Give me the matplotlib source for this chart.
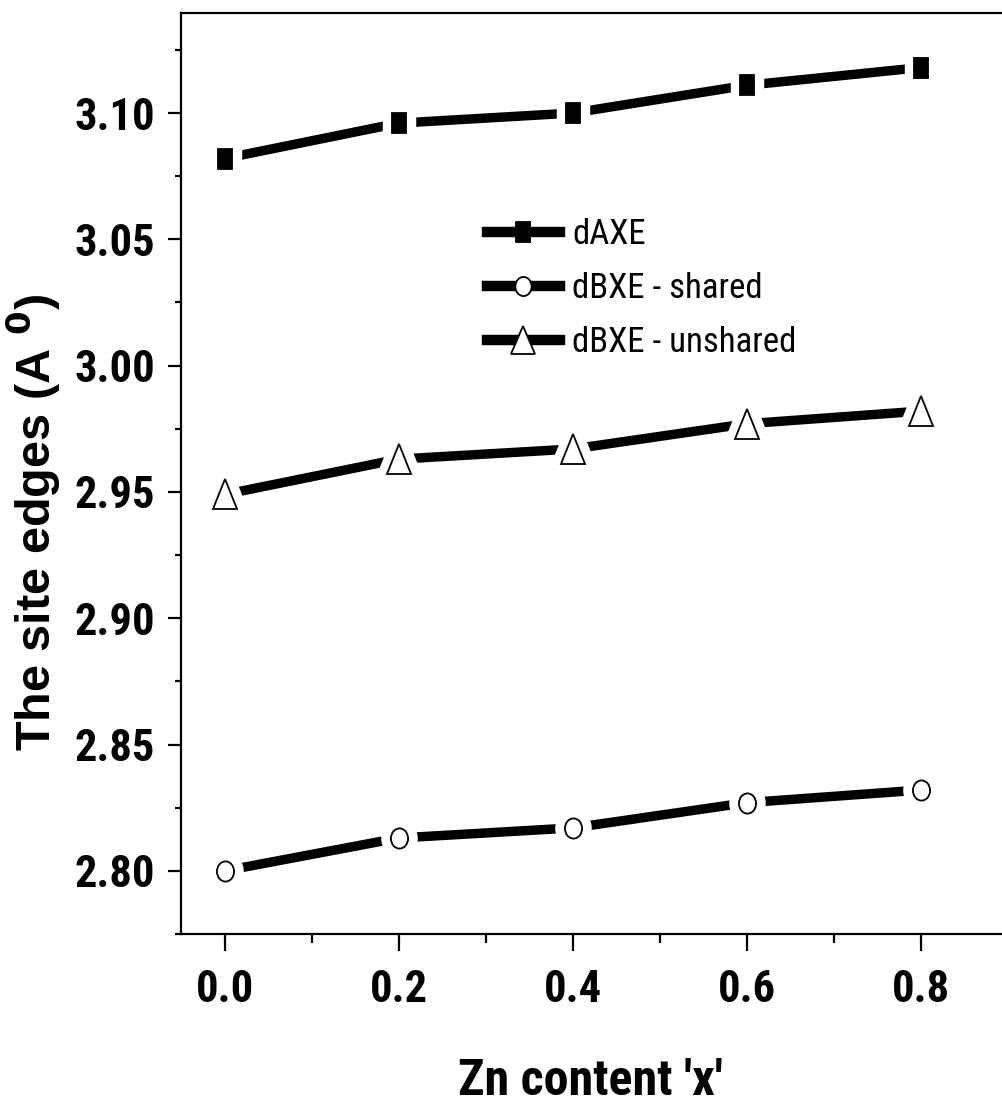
import numpy as np
import matplotlib.pyplot as plt
from matplotlib.markers import MarkerStyle
from matplotlib.transforms import Affine2D
from matplotlib.ticker import MultipleLocator, FormatStrFormatter

x = [0.0, 0.2, 0.4, 0.6, 0.8]
d_axe = [3.082, 3.096, 3.100, 3.111, 3.118]
d_bxe_shared = [2.800, 2.813, 2.817, 2.827, 2.832]
d_bxe_unshared = [2.949, 2.963, 2.967, 2.977, 2.982]
labels = ['dAXE', 'dBXE - shared', 'dBXE - unshared']

narrow = ['Roboto Condensed', 'Liberation Sans', 'DejaVu Sans']
wide = ['Liberation Sans', 'DejaVu Sans']

fig = plt.figure(figsize=(10.02, 11.03), dpi=100)
ax = fig.add_axes([181/1002, 1 - 934/1103, (1008-181)/1002, (934-13)/1103])

# markers are a bit taller than wide
sq = MarkerStyle('s', transform=Affine2D().scale(0.72, 1))
circ = MarkerStyle('o', transform=Affine2D().scale(0.85, 1))
tri = MarkerStyle('^', transform=Affine2D().scale(0.83, 1))

series = [
    (d_axe, sq, 'black', 15),
    (d_bxe_shared, circ, 'white', 14.5),
    (d_bxe_unshared, tri, 'white', 21.5),
]
handles = []
for (yv, mk, fc, ms), lab in zip(series, labels):
    ax.plot(x, yv, color='black', lw=6.8, solid_capstyle='butt', zorder=2)
    # white halo leaves a gap between line and marker
    ax.plot(x, yv, ls='none', marker=mk, ms=ms, mfc='white', mec='white', mew=14, zorder=3)
    ax.plot(x, yv, ls='none', marker=mk, ms=ms, mfc=fc, mec='black', mew=1.3, zorder=4)
    handles.append(plt.Line2D([], [], color='black', lw=7.5, marker=mk, ms=ms * 0.95,
                              mfc=fc, mec='black', mew=1.3))

ax.legend(handles, labels, loc='upper left', bbox_to_anchor=(0.37, 0.777),
          frameon=False, borderpad=0, borderaxespad=0,
          handlelength=2.1, handletextpad=0.35, labelspacing=0.6,
          prop={'family': narrow, 'size': 25})

ax.set_xlim(-0.05, 0.9)
ax.set_ylim(2.775, 3.1396)
ax.xaxis.set_major_locator(MultipleLocator(0.2))
ax.xaxis.set_minor_locator(MultipleLocator(0.1))
ax.yaxis.set_major_locator(MultipleLocator(0.05))
ax.yaxis.set_minor_locator(MultipleLocator(0.025))
ax.xaxis.set_major_formatter(FormatStrFormatter('%.1f'))
ax.yaxis.set_major_formatter(FormatStrFormatter('%.2f'))

ax.spines['right'].set_visible(False)
for s in ax.spines.values():
    s.set_linewidth(1.6)
ax.tick_params(which='both', direction='out', width=1.6, top=False, right=False)
ax.tick_params(axis='x', which='major', length=12.5, pad=13)
ax.tick_params(axis='x', which='minor', length=6.5)
ax.tick_params(axis='y', which='major', length=9.5, pad=9)
ax.tick_params(axis='y', which='minor', length=4.5)
for t in ax.get_xticklabels() + ax.get_yticklabels():
    t.set_fontfamily(narrow)
    t.set_fontweight('bold')
    t.set_fontsize(32)

ax.set_xlabel("Zn content 'x'", family=narrow, weight='bold', size=36)
ax.set_ylabel('The site edges (A $^{\\mathbf{0}}$)', family=wide, weight='bold', size=35)
ax.xaxis.set_label_coords(0.4946, -0.1346)
ax.yaxis.set_label_coords(-0.143, 0.447)

fig.savefig('out.png', dpi=100)
